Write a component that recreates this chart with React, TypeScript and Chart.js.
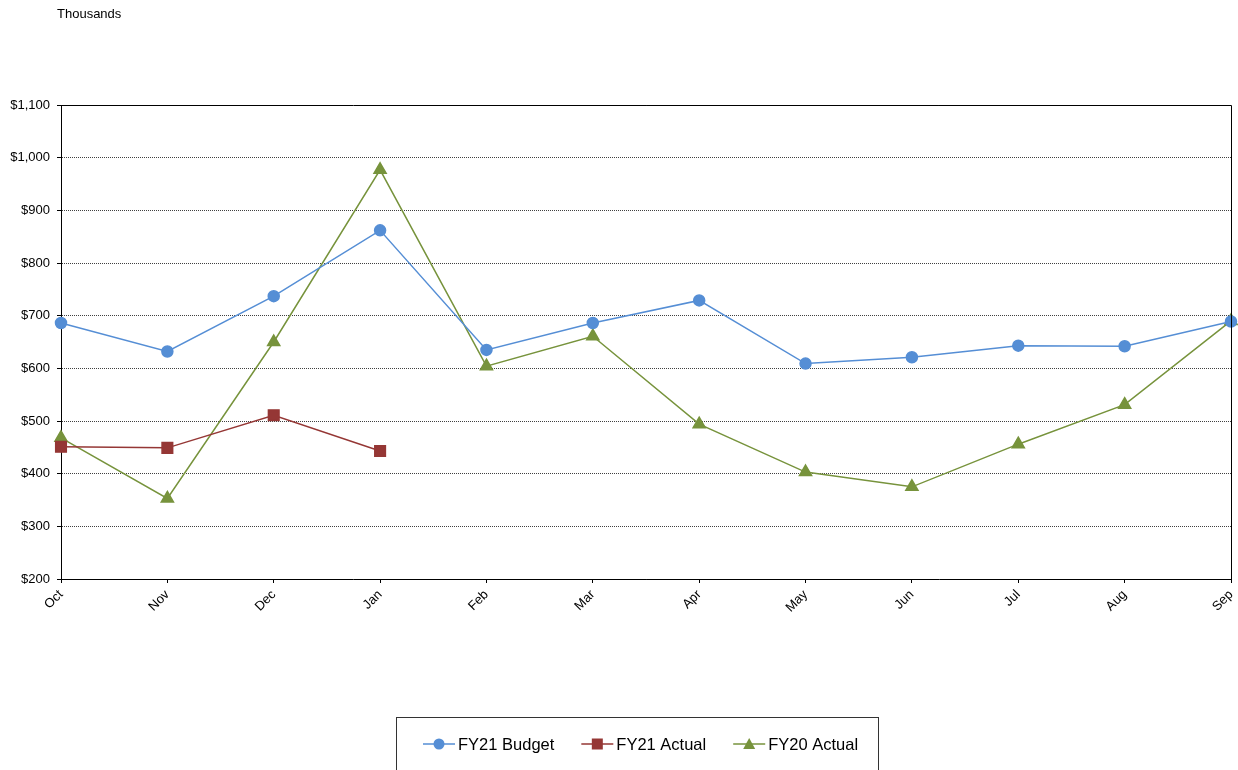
import React, { useEffect, useRef } from "react";
import { Chart, registerables } from "chart.js";

Chart.register(...registerables);

const months = ["Oct", "Nov", "Dec", "Jan", "Feb", "Mar", "Apr", "May", "Jun", "Jul", "Aug", "Sep"];
const fy21Budget = [686, 632, 737, 862, 635, 686, 729, 609, 621, 643, 642, 689];
const fy21Actual = [451, 449, 511, 443];
const fy20Actual = [468, 353, 650, 977, 604, 661, 494, 403, 375, 456, 531, 690];
const unitLabel = "Thousands";

const BLUE = "#558ED5";
const RED = "#953735";
const GREEN = "#77933C";
const FONT = "'Liberation Sans', Arial, sans-serif";

const framePlugin = {
  id: "frame",
  afterDraw(chart: any) {
    const { ctx, chartArea } = chart;
    ctx.save();
    ctx.strokeStyle = "#000";
    ctx.lineWidth = 1;
    ctx.beginPath();
    ctx.moveTo(chartArea.left, chartArea.top + 0.5);
    ctx.lineTo(Math.round(chartArea.right) + 0.5, chartArea.top + 0.5);
    ctx.lineTo(Math.round(chartArea.right) + 0.5, chartArea.bottom);
    ctx.stroke();

    ctx.fillStyle = "#000";
    ctx.font = `13px ${FONT}`;
    ctx.textAlign = "left";
    ctx.textBaseline = "middle";
    ctx.fillText(unitLabel, 57, 14);

    ctx.strokeStyle = "#333";
    ctx.strokeRect(396.5, 717.5, 482, 60);
    ctx.font = `16.5px ${FONT}`;
    const cy = 744;
    let x = 423;
    chart.data.datasets.forEach((ds: any) => {
      ctx.strokeStyle = ds.borderColor;
      ctx.lineWidth = 1.5;
      ctx.beginPath();
      ctx.moveTo(x, cy);
      ctx.lineTo(x + 32, cy);
      ctx.stroke();
      ctx.fillStyle = ds.pointBackgroundColor;
      ctx.beginPath();
      const mx = x + 16;
      if (ds.pointStyle === "circle") {
        ctx.arc(mx, cy, 5.5, 0, Math.PI * 2);
      } else if (ds.pointStyle === "rect") {
        ctx.rect(mx - 5.5, cy - 5.5, 11, 11);
      } else {
        ctx.moveTo(mx, cy - 6);
        ctx.lineTo(mx + 6, cy + 5);
        ctx.lineTo(mx - 6, cy + 5);
        ctx.closePath();
      }
      ctx.fill();
      ctx.fillStyle = "#000";
      ctx.textAlign = "left";
      ctx.fillText(ds.label, x + 35, cy + 1);
      x += 35 + ctx.measureText(ds.label).width + 27;
    });
    ctx.restore();
  },
};

export default function App() {
  const ref = useRef<HTMLCanvasElement>(null);
  useEffect(() => {
    if (!ref.current) return;
    const chart = new Chart(ref.current, {
      type: "line",
      data: {
        labels: months,
        datasets: [
          {
            label: "FY21 Budget",
            data: fy21Budget,
            borderColor: BLUE,
            backgroundColor: BLUE,
            pointBackgroundColor: BLUE,
            pointBorderColor: BLUE,
            pointStyle: "circle",
            pointRadius: 5.5,
            borderWidth: 1.5,
          },
          {
            label: "FY21 Actual",
            data: fy21Actual,
            borderColor: RED,
            backgroundColor: RED,
            pointBackgroundColor: RED,
            pointBorderColor: RED,
            pointStyle: "rect",
            pointRadius: 7.5,
            borderWidth: 1.5,
          },
          {
            label: "FY20 Actual",
            data: fy20Actual,
            borderColor: GREEN,
            backgroundColor: GREEN,
            pointBackgroundColor: GREEN,
            pointBorderColor: GREEN,
            pointStyle: "triangle",
            pointRadius: 7,
            borderWidth: 1.5,
          },
        ],
      },
      options: {
        responsive: false,
        animation: false,
        layout: { padding: { top: 105, right: 7, left: 0, bottom: 0 } },
        plugins: { legend: { display: false }, tooltip: { enabled: false } },
        scales: {
          x: {
            type: "category",
            offset: false,
            afterFit: (s: any) => {
              s.height = 191;
            },
            grid: {
              drawOnChartArea: false,
              drawTicks: true,
              tickLength: 4,
              tickColor: "#000",
            },
            border: { color: "#000", width: 1 },
            ticks: {
              autoSkip: false,
              maxRotation: 45,
              minRotation: 45,
              padding: 4,
              color: "#000",
              font: { family: FONT, size: 13 },
            },
          },
          y: {
            min: 200,
            max: 1100,
            afterFit: (s: any) => {
              s.width = 61;
            },
            ticks: {
              stepSize: 100,
              padding: 7,
              color: "#000",
              font: { family: FONT, size: 13 },
              callback: (v: any) => "$" + Number(v).toLocaleString("en-US"),
            },
            grid: {
              color: "rgba(0,0,0,0.75)",
              lineWidth: 1,
              tickLength: 4,
              tickColor: "#000",
              tickBorderDash: [],
            } as any,
            border: { color: "#000", width: 1, dash: [1, 1] } as any,
          },
        },
      },
      plugins: [
        framePlugin,
        {
          id: "fixArea",
          afterLayout(chart: any) {
            const x = chart.scales.x;
            const targetRight = 1231;
            if (Math.abs(x.right - targetRight) > 0.1) {
              x.right = targetRight;
              x.width = x.right - x.left;
              chart.chartArea.right = targetRight;
              chart.chartArea.width = targetRight - chart.chartArea.left;
              x.configure();
              const y = chart.scales.y;
              y.configure();
            }
          },
        },
      ],
    });
    return () => chart.destroy();
  }, []);
  return (
    <div style={{ position: "absolute", left: 0, top: 0, width: 1238, height: 770 }}>
      <canvas ref={ref} width={1238} height={770} />
    </div>
  );
}
